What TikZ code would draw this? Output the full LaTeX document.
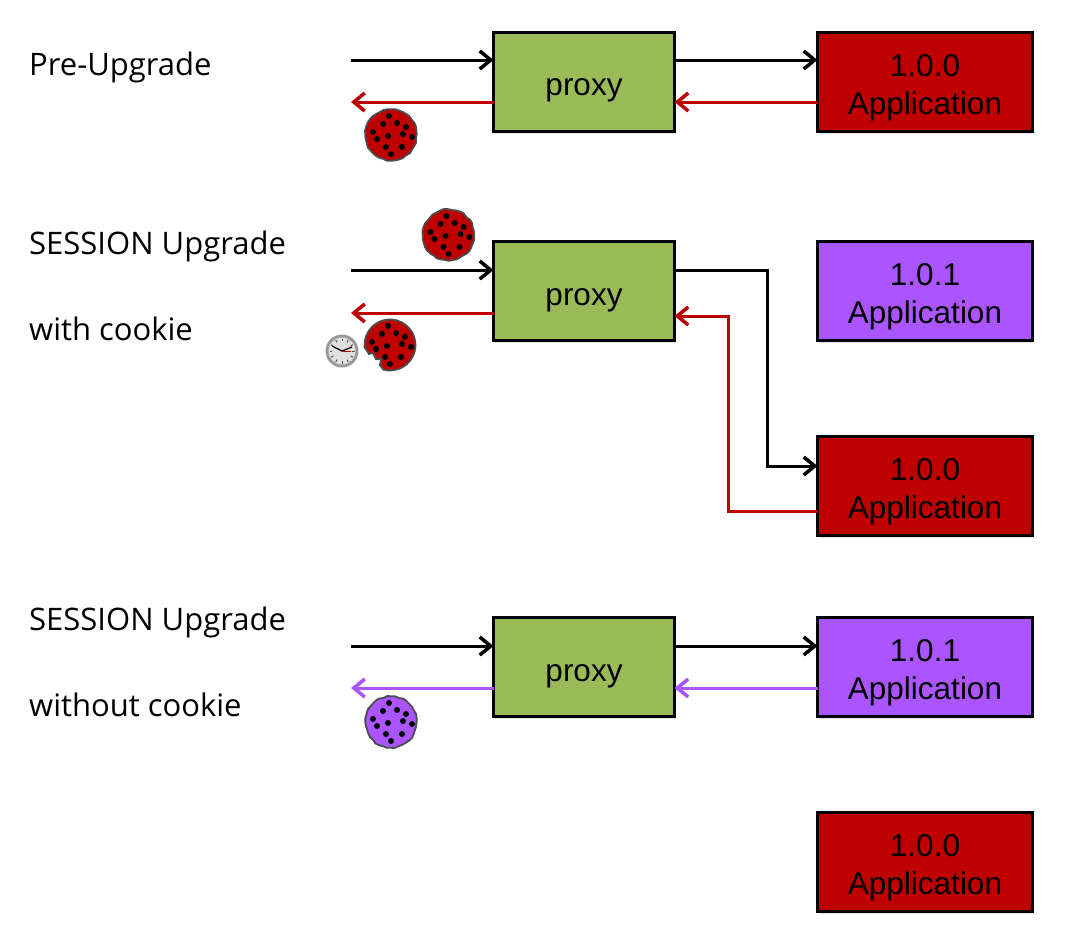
\documentclass[tikz,border=0pt]{standalone}
\usepackage{fontspec}
\setmainfont{Liberation Sans}
\newfontfamily\labelfont{Open Sans}
\usetikzlibrary{arrows.meta,shadows,decorations.pathmorphing}
\definecolor{appred}{HTML}{BE0000}
\definecolor{apppurple}{HTML}{AA55FF}
\definecolor{proxygreen}{HTML}{9BBB59}
\newcommand\proxytext[1]{\raisebox{-9pt}[\height][\depth]{#1}}
\newcommand\apptext[2]{\raisebox{-6pt}[\height][\depth]{#1}\\\raisebox{-6pt}[\height][\depth]{#2}}
\tikzset{
    box/.style={draw=black,line width=3pt,rectangle,align=center,outer sep=0pt,inner sep=0pt,
        font=\fontsize{31.5}{38}\selectfont,
        drop shadow={shadow xshift=1pt,shadow yshift=-2.5pt,opacity=.2}},
    proxybox/.style={box,fill=proxygreen,minimum width=181pt,minimum height=99pt},
    appbox/.style={box,minimum width=215pt,minimum height=99pt},
    caption/.style={anchor=base west,inner sep=0pt,font=\labelfont\fontsize{31}{37}\selectfont},
    link/.style={line width=3pt,-{Straight Barb[length=11pt,width=18pt,line width=3.5pt]}},
    blackline/.style={link,draw=black},
    redline/.style={link,draw=appred},
    purpleline/.style={link,draw=apppurple},
    pics/cookie/.style={code={
        \draw[fill=#1,draw=black!70,line width=1.8pt,decorate,decoration={random steps,segment length=4pt,amplitude=.7pt}]
            (0,0) circle (25.5);
        \foreach \cx/\cy in {-2/-19,-8/-11,6/-12,15/-8,-18/-3,-14/4,-3/1,12/-1,21/2,-5/12,11/12,0/19}
            \fill[black] (\cx,\cy) circle (3);
    }},
    pics/bitten/.style={code={
        \draw[fill=#1,draw=black!70,line width=1.8pt]
            (105:25.5) arc (105:-185:25.5) -- (-21,9) -- (-17,8) -- (-14,14) -- (-9,14) -- (-10,20) -- cycle;
        \foreach \cx/\cy in {-2/-19,-8/-11,6/-12,15/-8,-18/-3,-14/4,-3/1,12/-1,21/2,-5/12,11/12,0/19}
            \fill[black] (\cx,\cy) circle (3);
    }},
    pics/clock/.style={code={
        \fill[black!40] (0,0) circle (16.5);
        \fill[black!12] (0,0) circle (13.5);
        \foreach \tick in {0,30,...,330}
            \draw[black!70,line width=1pt] (\tick:10) -- (\tick:12.5);
        \draw[black,line width=1.2pt] (0,0) -- (-10,-5);
        \draw[black,line width=1.2pt] (0,0) -- (10,-4);
        \draw[appred,line width=.8pt] (0,0) -- (9,0);
    }},
}

\begin{document}
\begin{tikzpicture}[x=1pt,y=-1pt]
    \useasboundingbox (0,0) rectangle (1069,951);

    \node[caption] (pre) at (29,75) {Pre-Upgrade};
    \node[caption] (sessiona) at (29,254) {SESSION Upgrade};
    \node[caption] (withcookie) at (29,340) {with cookie};
    \node[caption] (sessionb) at (29,630) {SESSION Upgrade};
    \node[caption] (withoutcookie) at (29,716) {without cookie};

    \node[proxybox] (proxya) at (584,81.5) {\proxytext{proxy}};
    \node[proxybox] (proxyb) at (584,291) {\proxytext{proxy}};
    \node[proxybox] (proxyc) at (584,667) {\proxytext{proxy}};

    \node[appbox,fill=appred] (appa) at (925,81.5) {\apptext{1.0.0}{Application}};
    \node[appbox,fill=apppurple] (appb) at (925,291) {\apptext{1.0.1}{Application}};
    \node[appbox,fill=appred] (appc) at (925,486) {\apptext{1.0.0}{Application}};
    \node[appbox,fill=apppurple] (appd) at (925,667) {\apptext{1.0.1}{Application}};
    \node[appbox,fill=appred] (appe) at (925,862) {\apptext{1.0.0}{Application}};

    \coordinate (ina) at (351,60);
    \coordinate (outa) at (351,102);
    \coordinate (inb) at (351,270);
    \coordinate (outb) at (351,313);
    \coordinate (inc) at (351,646);
    \coordinate (outc) at (351,688);
    \coordinate (downb) at (767,466);
    \coordinate (upb) at (728,316);

    \draw[blackline] (ina) -- (ina -| proxya.west);
    \draw[redline] (outa -| proxya.west) -- (outa);
    \draw[blackline] (ina -| proxya.east) -- (ina -| appa.west);
    \draw[redline] (outa -| appa.west) -- (outa -| proxya.east);

    \draw[blackline] (inb) -- (inb -| proxyb.west);
    \draw[redline] (outb -| proxyb.west) -- (outb);
    \draw[blackline] (proxyb.east |- inb) -- (downb |- inb) -- (downb) -- (downb -| appc.west);
    \draw[redline] (appc.west |- 0,511) -- (upb |- 0,511) -- (upb) -- (upb -| proxyb.east);

    \draw[blackline] (inc) -- (inc -| proxyc.west);
    \draw[purpleline] (outc -| proxyc.west) -- (outc);
    \draw[blackline] (inc -| proxyc.east) -- (inc -| appd.west);
    \draw[purpleline] (outc -| appd.west) -- (outc -| proxyc.east);

    \pic at (391,135) {cookie=appred};
    \pic at (448.5,235) {cookie=appred};
    \pic at (390,345) {bitten=appred};
    \pic at (342,351) {clock};
    \pic at (391,722) {cookie=apppurple};
\end{tikzpicture}
\end{document}
